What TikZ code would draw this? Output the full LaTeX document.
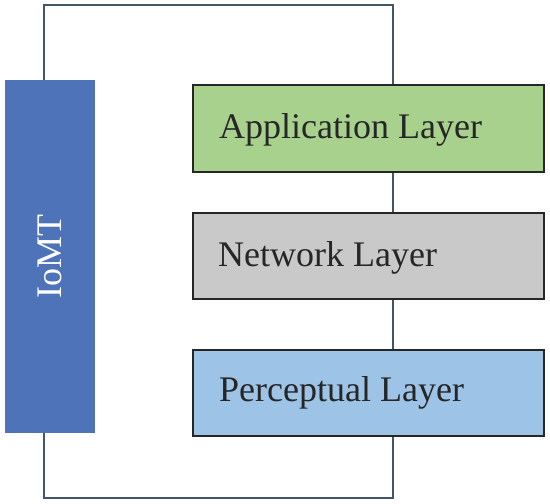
\documentclass[tikz,border=0pt]{standalone}
\usepackage{fontspec}
\setmainfont{Liberation Serif}
\usetikzlibrary{backgrounds}
\definecolor{iomtblue}{HTML}{4F73B9}
\definecolor{appgreen}{HTML}{A9D18E}
\definecolor{netgray}{HTML}{C9C9C9}
\definecolor{perblue}{HTML}{9DC3E6}
\definecolor{wire}{HTML}{44546A}
\begin{document}
\begin{tikzpicture}[x=1pt,y=-1pt,
  layer/.style={draw=black!85, line width=1.5pt, minimum width=351pt, minimum height=86pt, anchor=north west, inner sep=0pt},
  ltext/.style={anchor=west, font=\fontsize{36}{40}\selectfont, text=black!85, inner sep=0pt},
  wireline/.style={draw=wire, line width=1.5pt}]
\useasboundingbox (0,0) rectangle (550,504);
\node[fill=iomtblue, minimum width=90pt, minimum height=353pt, anchor=north west, inner sep=0pt] (iomt) at (5,80) {};
\node[rotate=90, text=white, font=\fontsize{36}{40}\selectfont, inner sep=0pt] (iomtt) at (iomt.center) {IoMT};
\node[layer, fill=appgreen, minimum height=87pt] (app) at (192,84) {};
\node[layer, fill=netgray] (net) at (192,212) {};
\node[layer, fill=perblue] (per) at (192,349) {};
\node[ltext] (appt) at (219,130) {Application Layer};
\node[ltext] (nett) at (218,258) {Network Layer};
\node[ltext] (pert) at (219,393) {Perceptual Layer};
\coordinate (tl) at (44,5);
\coordinate (tr) at (393,5);
\coordinate (br) at (393,498);
\coordinate (bl) at (44,498);
\begin{scope}[on background layer]
\draw[wireline] (iomt.north -| tl) -- (tl) -- (tr) -- (br) -- (bl) -- (iomt.south -| bl);
\end{scope}
\end{tikzpicture}
\end{document}
